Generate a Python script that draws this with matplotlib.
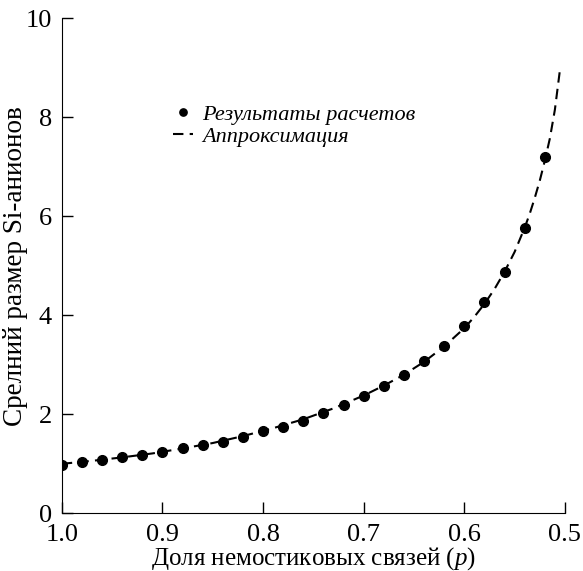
import matplotlib
matplotlib.use('Agg')
import matplotlib.pyplot as plt

# расчетные точки
p_calc = [1.00, 0.98, 0.96, 0.94, 0.92, 0.90, 0.88, 0.86, 0.84, 0.82, 0.80, 0.78, 0.76,
          0.74, 0.72, 0.70, 0.68, 0.66, 0.64, 0.62, 0.60, 0.58, 0.56, 0.54, 0.52]
size_calc = [0.98, 1.03, 1.07, 1.14, 1.18, 1.24, 1.32, 1.38, 1.44, 1.54, 1.66, 1.75, 1.87,
             2.03, 2.19, 2.38, 2.58, 2.80, 3.08, 3.39, 3.78, 4.27, 4.87, 5.76, 7.20]

# аппроксимация
p_fit = [1.00, 0.97, 0.94, 0.91, 0.88, 0.85, 0.82, 0.79, 0.76, 0.73, 0.70, 0.68, 0.66,
         0.64, 0.62, 0.60, 0.59, 0.58, 0.57, 0.56, 0.55, 0.54, 0.535, 0.53, 0.525,
         0.52, 0.515, 0.51, 0.505]
size_fit = [1.00, 1.06, 1.13, 1.21, 1.31, 1.42, 1.56, 1.72, 1.90, 2.12, 2.38, 2.58, 2.80,
            3.06, 3.37, 3.74, 3.97, 4.23, 4.53, 4.88, 5.28, 5.77, 6.05, 6.37, 6.72,
            7.12, 7.57, 8.15, 8.95]

plt.rcParams['font.family'] = ['Liberation Serif', 'DejaVu Serif']
plt.rcParams['mathtext.fontset'] = 'custom'
plt.rcParams['mathtext.it'] = 'Liberation Serif:italic'
plt.rcParams['mathtext.rm'] = 'Liberation Serif'

fig = plt.figure(figsize=(5.83, 5.71), dpi=100)
ax = fig.add_axes([0.106, 0.101, 0.863, 0.867])

ax.plot(p_fit, size_fit, '--', color='black', lw=1.5, dashes=(5, 3),
        label='Аппроксимация')
ax.plot(p_calc, size_calc, 'o', color='black', ms=7, label='Результаты расчетов')

ax.set_xlim(1.0, 0.5)
ax.set_ylim(0, 10)
ax.set_xticks([1.0, 0.9, 0.8, 0.7, 0.6, 0.5])
ax.set_xticklabels(['1.0', '0.9', '0.8', '0.7', '0.6', '0.5'])
ax.set_yticks([0, 2, 4, 6, 8, 10])

ax.spines['right'].set_visible(False)
ax.spines['top'].set_visible(False)
ax.tick_params(direction='in', length=8, width=1, labelsize=19)
ax.tick_params(axis='x', pad=8)
ax.tick_params(axis='y', pad=7)

ax.set_xlabel('Доля немостиковых связей ($p$)', fontsize=18, va='top')
ax.xaxis.set_label_coords(0.5, -0.064)
ax.set_ylabel('Срелний размер Si-анионов', fontsize=19.5, labelpad=-2)

h, l = ax.get_legend_handles_labels()
ax.legend([h[1], h[0]], [l[1], l[0]], loc='upper left', bbox_to_anchor=(0.181, 0.866),
          frameon=False, prop={'style': 'italic', 'size': 16}, handlelength=0.9,
          handletextpad=0.4, labelspacing=0.05, markerscale=0.75)

fig.savefig('out.png', dpi=100)
